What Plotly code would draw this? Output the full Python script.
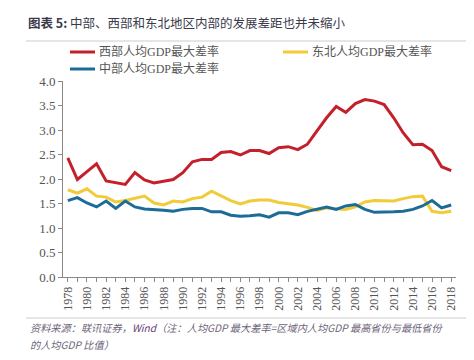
import plotly.graph_objects as go

years = list(range(1978, 2019))
west = [2.43, 1.99, 2.15, 2.31, 1.96, 1.92, 1.89, 2.13, 1.98, 1.92, 1.96, 1.99, 2.13, 2.35,
        2.40, 2.40, 2.54, 2.56, 2.49, 2.58, 2.58, 2.52, 2.64, 2.66, 2.60, 2.71, 2.98, 3.25,
        3.48, 3.36, 3.54, 3.62, 3.59, 3.52, 3.25, 2.94, 2.70, 2.71, 2.58, 2.25, 2.17]
northeast = [1.78, 1.71, 1.80, 1.65, 1.63, 1.53, 1.56, 1.60, 1.65, 1.51, 1.47, 1.55, 1.53, 1.60,
             1.63, 1.75, 1.65, 1.56, 1.49, 1.55, 1.57, 1.57, 1.52, 1.50, 1.47, 1.42, 1.36, 1.41,
             1.40, 1.38, 1.43, 1.53, 1.56, 1.56, 1.55, 1.60, 1.64, 1.65, 1.34, 1.31, 1.34]
central = [1.56, 1.62, 1.51, 1.43, 1.55, 1.40, 1.55, 1.43, 1.39, 1.38, 1.36, 1.34, 1.38, 1.40,
           1.40, 1.33, 1.33, 1.26, 1.24, 1.25, 1.27, 1.22, 1.31, 1.31, 1.27, 1.34, 1.38, 1.43,
           1.38, 1.45, 1.48, 1.38, 1.32, 1.32, 1.33, 1.34, 1.38, 1.45, 1.56, 1.41, 1.47]
tick_labels = [str(y) if y % 2 == 0 else "" for y in years]
y_ticks = [0.0, 0.5, 1.0, 1.5, 2.0, 2.5, 3.0, 3.5, 4.0]

names = ["西部人均GDP最大差率", "东北人均GDP最大差率", "中部人均GDP最大差率"]
series = [west, northeast, central]
colors = ["#c4202b", "#f2cb38", "#1d6c98"]

serif = "Liberation Serif, Noto Sans CJK SC"
fig = go.Figure()
# draw order: yellow, blue, red
for idx in [1, 2, 0]:
    fig.add_trace(go.Scatter(x=years, y=series[idx], mode="lines", name=names[idx],
                             line=dict(color=colors[idx], width=3), showlegend=False))

# legend-like entries via shapes/annotations
leg = [(0, 62, 44), (1, 275, 44), (2, 62, 61)]
for idx, lx, ly in leg:
    fig.add_shape(type="line", xref="paper", yref="paper",
                  x0=(lx - 55) / 393, x1=(lx + 25 - 55) / 393,
                  y0=(269 - ly) / 196, y1=(269 - ly) / 196,
                  line=dict(color=colors[idx], width=3))
    fig.add_annotation(text=names[idx], xref="paper", yref="paper",
                       x=(lx + 27 - 55) / 393, y=(269 - ly) / 196,
                       xanchor="left", yanchor="middle", showarrow=False,
                       font=dict(family=serif, size=12, color="#555555"))

fig.update_layout(
    width=474, height=360,
    margin=dict(l=55, r=26, t=73, b=91),
    paper_bgcolor="white", plot_bgcolor="white",
    xaxis=dict(range=[1977.5, 2018.5], tickvals=years, ticktext=tick_labels,
               tickangle=-90, ticks="outside", ticklen=4, tickcolor="#888888",
               showline=True, linecolor="#888888", linewidth=1, showgrid=False,
               zeroline=False,
               tickfont=dict(family=serif, size=12, color="#555555")),
    yaxis=dict(range=[0, 4], tickvals=y_ticks, ticktext=[f"{v:.1f}" for v in y_ticks],
               ticks="outside", ticklen=4, tickcolor="#888888",
               showline=True, linecolor="#888888", linewidth=1, showgrid=False,
               zeroline=False,
               tickfont=dict(family=serif, size=13, color="#555555")),
)

fig.add_annotation(text="<b>图表 5:</b> 中部、西部和东北地区内部的发展差距也并未缩小",
                   xref="paper", yref="paper", x=-37 / 393, y=(269 - 14) / 196,
                   xanchor="left", yanchor="middle", showarrow=False,
                   font=dict(family="Noto Sans CJK SC", size=12.5, color="#3a3a4a"))
fig.add_shape(type="line", xref="paper", yref="paper",
              x0=-37 / 393, x1=(474 - 55) / 393, y0=(269 - 33) / 196, y1=(269 - 33) / 196,
              line=dict(color="#cccccc", width=1))
fig.add_shape(type="line", xref="paper", yref="paper",
              x0=-37 / 393, x1=(468 - 55) / 393, y0=(269 - 310) / 196, y1=(269 - 310) / 196,
              line=dict(color="#cccccc", width=1))
fig.add_annotation(text="<i>资料来源：联讯证券，<span style='color:#6a3f7a'>Wind</span>（注：人均GDP 最大差率=区域内人均GDP 最高省份与最低省份</i>",
                   xref="paper", yref="paper", x=-35 / 393, y=(269 - 319) / 196,
                   xanchor="left", yanchor="middle", showarrow=False,
                   font=dict(family="Noto Sans CJK SC", size=10.2, color="#6d6478"))
fig.add_annotation(text="<i>的人均GDP 比值）</i>",
                   xref="paper", yref="paper", x=-35 / 393, y=(269 - 336) / 196,
                   xanchor="left", yanchor="middle", showarrow=False,
                   font=dict(family="Noto Sans CJK SC", size=10.2, color="#6d6478"))

fig.write_html("out.html")
